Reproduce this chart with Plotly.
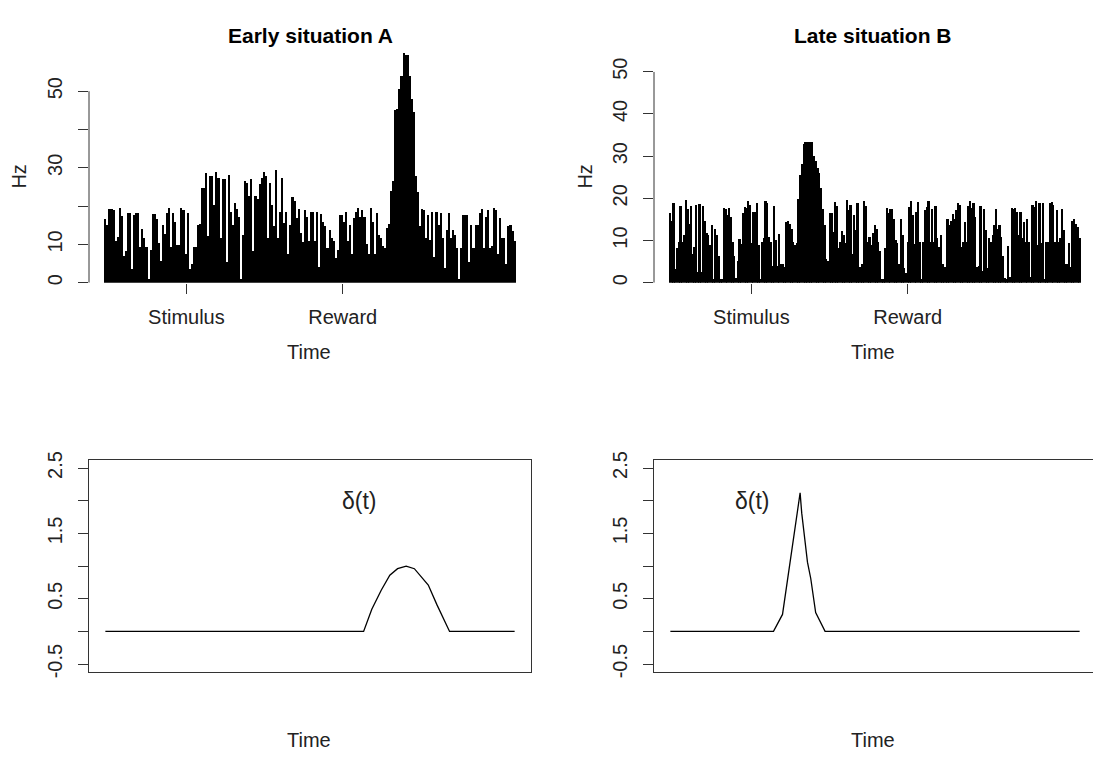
import numpy as np
import plotly.graph_objects as go

# ---------------------------------------------------------------- data
T_END = 1000            # trial time axis (arbitrary units)
EVENT_TIMES = [198, 580]
EVENT_LABELS = ["Stimulus", "Reward"]

PANEL_TITLES = ["Early situation A", "Late situation B"]

HZ_TICKS = [0, 10, 20, 30, 40, 50]
HZ_TEXT_EARLY = ["0", "10", "", "30", "", "50"]
HZ_TEXT_LATE = ["0", "10", "20", "30", "40", "50"]

DELTA_TICKS = [-0.5, 0, 0.5, 1.0, 1.5, 2.0, 2.5]
DELTA_TEXT = ["-0.5", "", "0.5", "", "1.5", "", "2.5"]

# firing rate (Hz) per time bin, early in learning
rate_early = [
    16.6, 15, 19.3, 19.3, 19, 11, 12, 19.5, 17.5, 7,
    8.3, 18.3, 18.3, 3.6, 17.8, 18.3, 18.3, 9.3, 14, 11.7,
    9.3, 1.1, 8.5, 17.9, 17.9, 16.6, 10.4, 5.6, 15, 12.7,
    18.3, 19.5,
    9.3, 18.3, 15.9, 9.8, 9.8, 19.5, 18.9, 7.5, 18.3, 3.6,
    4.9, 9.3, 9.3, 15, 15.3, 24.8, 24.8, 28.6, 12.1, 27.8,
    27.8, 20.2, 29, 27.4, 11.7, 27, 27, 5.3, 28.2, 18.5,
    15, 20.8, 19.2, 17.2, 1.1, 12.5, 26.5, 26.1, 22.7, 27,
    8.3, 22.7, 22, 25.7, 27.4, 29, 27.8, 11.7, 26.1, 20.2,
    14.7, 29.5, 11.7, 18.5, 27.4, 15.5, 18.5, 7.5, 15, 22.5,
    21.4, 16.8, 19.3, 13, 10.7, 18.9, 17.2, 10.8, 18.5, 18.6,
    10.8, 18.5, 4, 18, 15.9, 14.7, 9.2, 13.8, 11.7, 10.8,
    6.6, 8.5, 17.8, 17.8, 15.9, 18.5, 10.8, 15, 7.5, 16.8,
    18.6, 19.5, 17.2, 18.9, 17.2, 10, 7.5, 19.5, 15.9, 7.5,
    18.3, 12.5, 11.7, 9.6, 9.2, 14.2, 15.3, 24, 26.5, 45,
    45.5, 50.7, 54, 60, 59.6, 59.6, 54, 48, 44.7, 27.8,
    23.6, 14.7, 19.3, 18.9, 11.7, 17.6, 11.3, 18.6, 6.8, 18.5,
    15, 18.3, 11.7, 3.9, 13.8, 18.3, 11.7, 13.8, 12.5, 9.2,
    1.1, 9.2, 17.8, 17.8, 17.6, 5.3, 15, 9, 15, 15,
    18.3, 19.3, 9.2, 17.2, 18.9, 9.2, 9.6, 19.5, 18.9, 7.5,
    16.8, 11.7, 11.7, 4.9, 14.7, 15, 13.4, 10.8,
]

# firing rate (Hz) per time bin, late in learning
rate_late = [
    16.6, 14.8, 19, 3.3, 8.3, 9.8, 18.3, 9.8, 11.4, 19.7,
    17.5, 14, 18.3, 6.8, 8.5, 18.5, 2.5, 18.7, 2.5, 18.3,
    14.8, 11.8, 11.4, 9.1, 13.8, 1, 12.9, 11.4, 6.4, 1,
    1, 17.7, 17.5, 16, 17.7, 15.6, 9.8, 6.4, 1.2, 5.2,
    10.5, 9.2, 16.6, 17.9, 17.7, 19.5, 18.5, 9.5, 16.8, 16.8,
    19, 8.9, 1, 9.8, 10.6, 19.5, 19, 10.8, 9.8, 4.1,
    18.2, 10.2, 4.1, 11.5, 4.6, 4.5, 3.7, 14.5, 14.8, 14,
    12.9, 9.8, 9.1, 9.5, 20, 25.6, 28.3, 32.9, 33.3, 33.3,
    33.3, 33.3, 33.3, 30.2, 29, 27.2, 26, 22.5, 17.5, 13.7,
    5.6, 5.2, 16.6, 16.6, 12.2, 19.2, 18.3, 8.3, 9.8, 12.3,
    11.4, 9.5, 19.7, 17.2, 18.5, 6.8, 16, 12.5, 19, 3.7,
    3.7, 4.5, 19.5, 18.3, 9.8, 10.8, 9.1, 11.8, 13.7, 12.9,
    9.8, 7.5, 1, 1, 8.3, 17.7, 16.6, 17.5, 17.5, 15.2,
    10.2, 9.5, 4.5, 15.2, 11.4, 3.5, 2.3, 9.8, 17.9, 19.5,
    16, 9.2, 16.8, 19.2, 9.8, 1, 9.8, 17.2, 17.9, 19.5,
    9.8, 17.5, 9.8, 18.3, 10.6, 8.5, 11.4, 4.6, 3.7, 3.7,
    15.1, 13.7, 14.8, 16.4, 15.2, 17.2, 19, 18.5, 8.5, 9.8,
    14.5, 9.8, 18.3, 19.5, 17.7, 19, 15.6, 3.7, 4.1, 18.3,
    2.9, 17.5, 12.5, 3.5, 10.6, 9.8, 11.4, 13.7, 17.5, 12.9,
    13.7, 11, 6.4, 1.2, 1, 8.7, 1.5, 17.7, 17.5, 17.7,
    16.8, 11.4, 16.8, 10.6, 14.5, 9.8, 15.2, 9.8, 1.5, 18.5,
    17.9, 19.5, 9.1, 19, 9.5, 19, 1, 9.8, 9.8, 19,
    19.2, 18.5, 9.8, 17.2, 9.8, 10.6, 17.5, 12.5, 4.5, 4.6,
    9.5, 3.7, 14.8, 15.1, 14, 13.3, 10.6,
]

# prediction error delta(t): breakpoints of the piecewise-linear trace
delta_early_t = [0, 631, 651, 674, 695, 714, 735, 755, 789, 810, 841, 1000]
delta_early = [0, 0, 0.34, 0.63, 0.86, 0.96, 1.0, 0.96, 0.71, 0.41, 0, 0]

delta_late_t = [0, 252, 274, 310, 317, 321, 335, 343, 355, 378, 1000]
delta_late = [0, 0, 0.26, 1.81, 2.12, 1.81, 1.06, 0.81, 0.29, 0, 0]

DELTA_LABEL = "δ(t)"
DELTA_LABEL_POS = [(620, 2.0), (200, 2.0)]

# ---------------------------------------------------------------- layout helpers
W, H = 1093, 760
FONT = "Liberation Sans, Arial, sans-serif"
INK = "#222222"
AX = "#333333"


def fx(px):
    return px / W


def fy(px):
    return 1 - px / H


fig = go.Figure()

# spike-rate histograms
for k, rates in enumerate([rate_early, rate_late]):
    n = len(rates)
    t = np.linspace(0, T_END, n)
    fig.add_trace(go.Bar(
        x=t, y=rates, width=T_END / (n - 1),
        marker=dict(color="black", line=dict(width=0)),
        xaxis="x" if k == 0 else "x2", yaxis="y" if k == 0 else "y2",
        hoverinfo="skip",
    ))

# delta(t) traces
for k, (tt, dd) in enumerate([(delta_early_t, delta_early), (delta_late_t, delta_late)]):
    fig.add_trace(go.Scatter(
        x=tt, y=dd, mode="lines", line=dict(color="black", width=1.3),
        xaxis="x3" if k == 0 else "x4", yaxis="y3" if k == 0 else "y4",
        hoverinfo="skip",
    ))

tickfont = dict(family=FONT, size=20, color=INK)

left_x = [fx(89), fx(531)]
right_x = [fx(654), 1.0]
left_rng = [-40, 1040]
right_rng = [-40, -40 + (W - 654) / (442 / 1080)]

common_x_top = dict(
    tickvals=EVENT_TIMES, ticktext=EVENT_LABELS, ticks="outside", ticklen=10,
    tickcolor=AX, tickwidth=1, showline=False, showgrid=False, zeroline=False,
    tickfont=tickfont, ticklabelstandoff=6,
)
common_y_top = dict(
    tickvals=HZ_TICKS, ticks="outside", ticklen=10, tickcolor=AX, tickwidth=1,
    showline=False, showgrid=False, zeroline=False, tickangle=-90,
    tickfont=tickfont, ticklabelstandoff=8,
)
common_x_bot = dict(
    showticklabels=False, ticks="", showgrid=False, zeroline=False,
    showline=True, linecolor=AX, linewidth=1, mirror=True,
)
common_y_bot = dict(
    tickvals=DELTA_TICKS, ticktext=DELTA_TEXT, range=[-0.62, 2.62],
    ticks="outside", ticklen=10, tickcolor=AX, tickwidth=1,
    showgrid=False, zeroline=False, showline=True, linecolor=AX, linewidth=1,
    tickangle=-90, tickfont=tickfont, ticklabelstandoff=8,
)

fig.update_layout(
    width=W, height=H, autosize=False,
    margin=dict(l=0, r=0, t=0, b=0),
    paper_bgcolor="white", plot_bgcolor="white",
    showlegend=False, bargap=0,
    font=dict(family=FONT, color=INK),
    xaxis=dict(domain=left_x, range=left_rng, anchor="y", **common_x_top),
    yaxis=dict(domain=[fy(276), fy(40)], range=[0, 60], anchor="x",
               ticktext=HZ_TEXT_EARLY, **common_y_top),
    xaxis2=dict(domain=right_x, range=right_rng, anchor="y2", **common_x_top),
    yaxis2=dict(domain=[fy(276), fy(59.3)], range=[0, 50], anchor="x2",
                ticktext=HZ_TEXT_LATE, **common_y_top),
    xaxis3=dict(domain=left_x, range=left_rng, anchor="y3", **common_x_bot),
    yaxis3=dict(domain=[fy(675.7), fy(458.3)], anchor="x3", mirror=True, **common_y_bot),
    xaxis4=dict(domain=right_x, range=right_rng, anchor="y4", **common_x_bot),
    yaxis4=dict(domain=[fy(675.7), fy(458.3)], anchor="x4", mirror=False, **common_y_bot),
)

# y-axis lines of the histograms run only between the first and last tick
for xa, ya in [("x", "y"), ("x2", "y2")]:
    fig.add_shape(type="line", xref=f"{xa} domain", yref=ya, x0=0, x1=0,
                  y0=HZ_TICKS[0], y1=HZ_TICKS[-1], line=dict(color=AX, width=1))

ann = []
title_font = dict(family=FONT, size=21, color="black")
label_font = dict(family=FONT, size=20, color=INK)
for cx, title in zip([310, 873], PANEL_TITLES):
    ann.append(dict(x=fx(cx), y=fy(22), xref="paper", yref="paper", text=f"<b>{title}</b>",
                    showarrow=False, font=title_font, xanchor="center", yanchor="middle"))
for cx in [309, 873]:
    for cy in [347, 746]:
        ann.append(dict(x=fx(cx), y=fy(cy), xref="paper", yref="paper", text="Time",
                        showarrow=False, font=label_font, xanchor="center", yanchor="middle"))
for cx in [19, 585]:
    ann.append(dict(x=fx(cx), y=fy(167), xref="paper", yref="paper", text="Hz",
                    showarrow=False, font=label_font, textangle=-90,
                    xanchor="center", yanchor="middle"))
for (xa, ya), (lx, ly) in zip([("x3", "y3"), ("x4", "y4")], DELTA_LABEL_POS):
    ann.append(dict(x=lx, y=ly, xref=xa, yref=ya, text=DELTA_LABEL, showarrow=False,
                    font=dict(family=FONT, size=23, color=INK),
                    xanchor="center", yanchor="middle"))
fig.update_layout(annotations=ann)

fig.write_html("out.html")
